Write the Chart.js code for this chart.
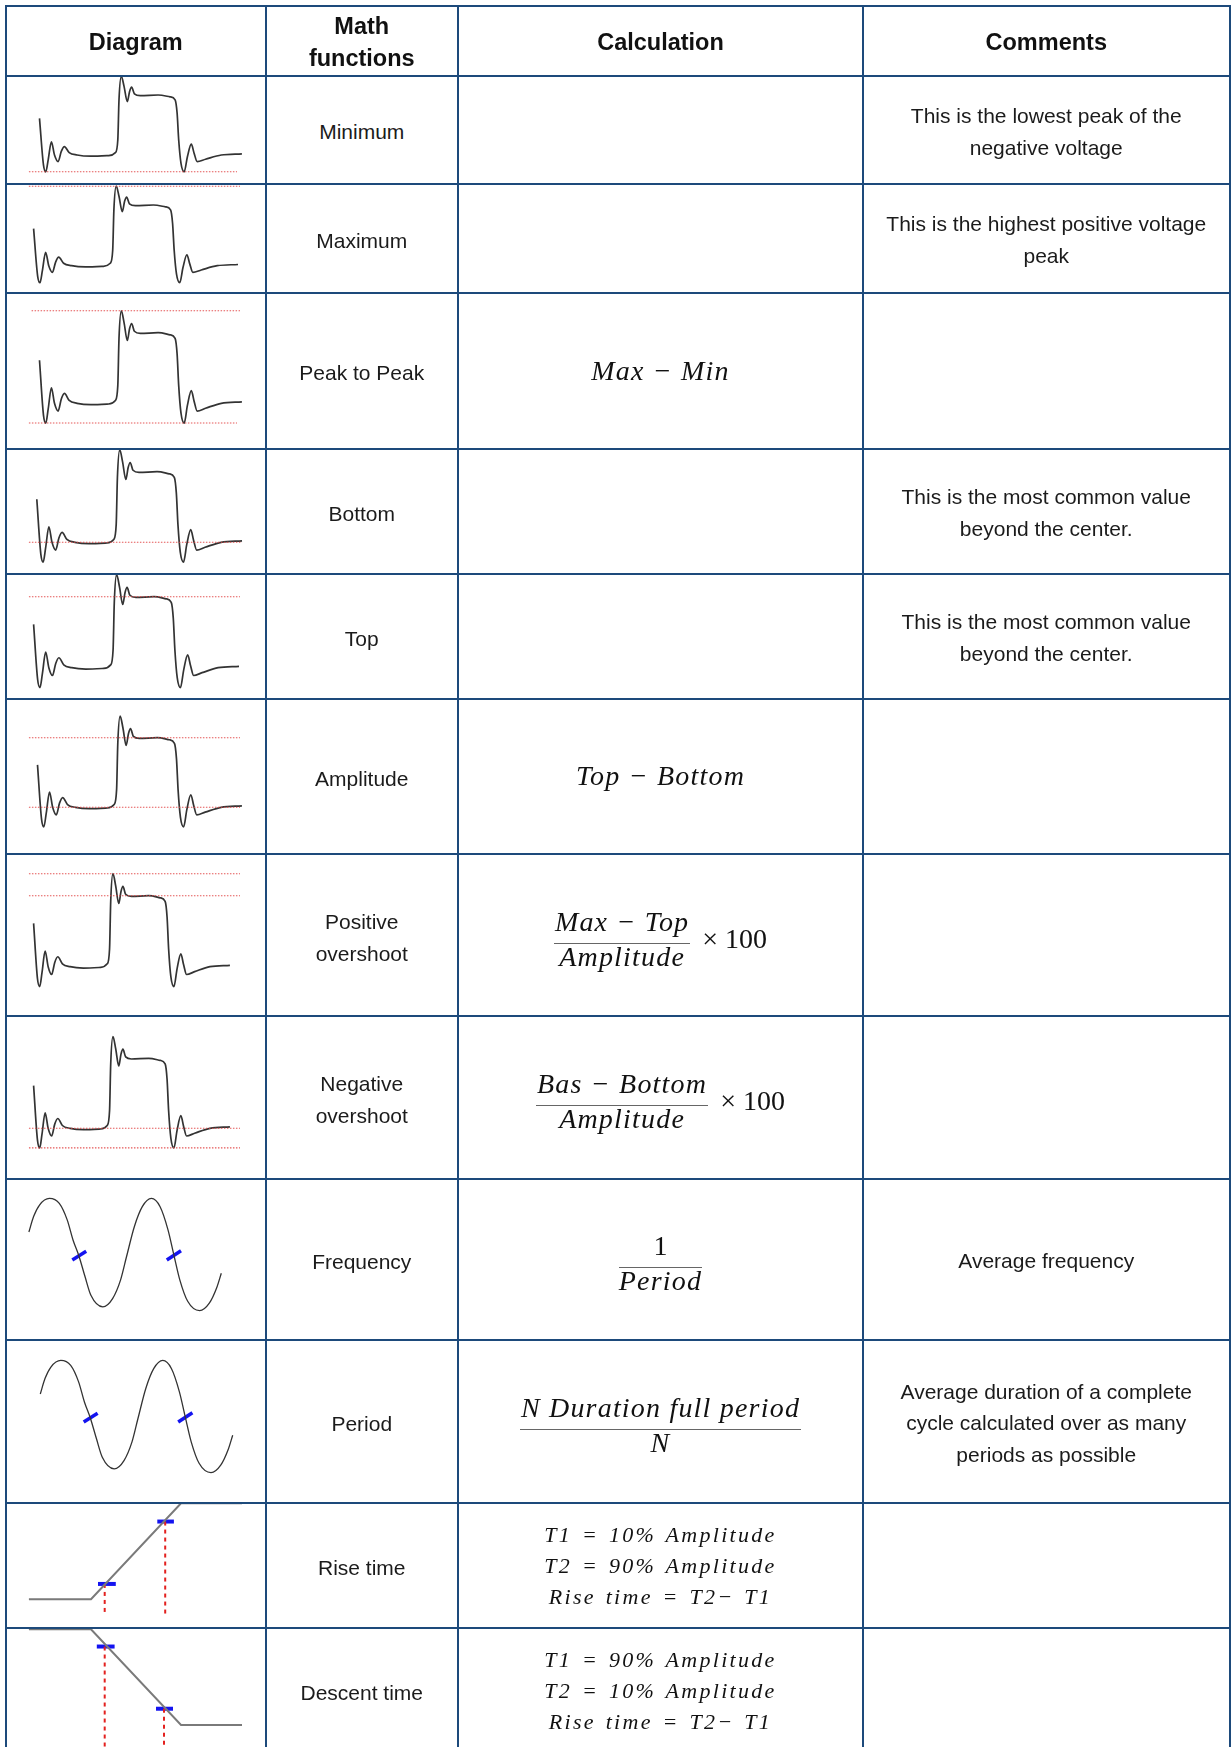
<!DOCTYPE html>
<html lang="en">
<head>
<meta charset="UTF-8">
<title>Math functions</title>
<script src="https://cdn.jsdelivr.net/npm/chart.js@4.4.1/dist/chart.umd.min.js"></script>
<style>
  body { margin: 0; background: #fff; }
  #page { position: relative; width: 1231px; height: 1747px; overflow: hidden; font-family: "Liberation Sans", Arial, sans-serif; color: #1b1b1b; }
  .cell { position: absolute; display: flex; align-items: center; justify-content: center; text-align: center; z-index: 1; }
  .hd { font-size: 23.5px; font-weight: bold; line-height: 31.7px; color: #111; }
  .lbl { font-size: 21px; line-height: 31.6px; }
  .m { font-family: "Liberation Serif", serif; font-style: italic; font-size: 28px; letter-spacing: 1.2px; color: #111; white-space: nowrap; }
  .r { font-style: normal; letter-spacing: 0; }
  .frac { display: inline-flex; flex-direction: column; align-items: center; vertical-align: middle; }
  .num { line-height: 28px; padding: 0 1px 7px; }
  .bar { align-self: stretch; border-top: 1.5px solid #666; }
  .den { line-height: 28px; margin-top: -1px; }
  .t { font-family: "Liberation Serif", serif; font-style: italic; font-size: 22px; letter-spacing: 2.3px; word-spacing: 2px; line-height: 31px; color: #111; white-space: nowrap; }
  .rule { position: absolute; background: #1d4a7b; z-index: 2; }
  canvas { position: absolute; }
</style>
</head>
<body>
<div id="page"></div>
<script>
  // pulse trace, x in time units, y in amplitude units (bottom = 0, top = 1)
  const pulseX = [0, 4, 6.3, 8.7, 11.9, 15, 18.6, 21.8, 24.9, 29.7, 37.6, 51.4, 69.2, 75.9, 78.3, 79.5, 81.8, 84.6, 87.8, 90.1, 92.1, 94.9, 100.8, 118.6, 130.5, 135.6, 137.6, 139.2, 141.5, 144.7, 147.9, 151.8, 154.6, 157.7, 166, 181.8, 202.4]
  const pulseY = [0.61, -0.17, -0.28, -0.08, 0.22, 0, -0.11, 0.06, 0.14, 0.04, 0, -0.02, -0.01, 0.04, 0.25, 0.92, 1.31, 1.14, 0.89, 1.06, 1.13, 1.02, 0.99, 1.0, 0.97, 0.92, 0.7, 0.25, -0.14, -0.28, -0.03, 0.18, 0.03, -0.11, -0.07, 0, 0.02]
  const levels = { min: -0.28, max: 1.31, bottom: 0, top: 1 }

  // sine trace for frequency / period
  const sineX = [0, 4.7, 10.6, 20.5, 30.4, 38.3, 44.2, 50.1, 56.1, 62, 73.9, 83.7, 91.7, 97.6, 105.5, 113.4, 122.5, 131.2, 139.1, 145, 150.9, 158.8, 170.7, 180.6, 187.7, 192.4]
  const sineY = [0.4, 0.68, 0.89, 1.01, 0.92, 0.62, 0.25, -0.04, -0.41, -0.75, -0.96, -0.81, -0.47, -0.05, 0.5, 0.86, 1.01, 0.86, 0.44, -0.02, -0.47, -0.86, -1.03, -0.89, -0.62, -0.35]
  const sineMarkX = [[43.4, 57.3], [137.9, 152.1]]
  const sineMarkY = [[-0.11, 0.05], [-0.11, 0.06]]

  // rise / descent ramps
  const rampX = [0, 62.1, 152.1, 213.1]
  const riseY = [0, 0, 1, 1]
  const fallY = [1, 1, 0, 0]
  const riseMarkX = [[69.1, 86.9], [128.4, 145]]
  const riseMarkY = [0.16, 0.81]
  const riseDropX = [75.8, 136.3]
  const fallMarkX = [[67.9, 85.7], [127.1, 144.1]]
  const fallMarkY = [0.82, 0.17]
  const fallDropX = [75.8, 135.1]
  const riseDropEnd = -0.17
  const fallDropEnd = -0.4

  const headers = ['Diagram', 'Math<br>functions', 'Calculation', 'Comments']
  const labels = ['Minimum', 'Maximum', 'Peak to Peak', 'Bottom', 'Top', 'Amplitude', 'Positive<br>overshoot', 'Negative<br>overshoot', 'Frequency', 'Period', 'Rise time', 'Descent time']
  const comments = [
    'This is the lowest peak of the<br>negative voltage',
    'This is the highest positive voltage<br>peak',
    '',
    'This is the most common value<br>beyond the center.',
    'This is the most common value<br>beyond the center.',
    '', '', '',
    'Average frequency',
    'Average duration of a complete<br>cycle calculated over as many<br>periods as possible',
    '', ''
  ]
  // which reference levels each pulse row shows, with their x extent
  const pulseRefs = [
    [['min', -10.6, 197.5]],
    [['max', -4.7, 204.4]],
    [['max', -7.9, 200.5], ['min', -10.6, 197.5]],
    [['bottom', -7.8, 202.4]],
    [['top', -4.6, 203.3]],
    [['top', -8.5, 200.5], ['bottom', -8.5, 200.5]],
    [['max', -4.8, 212.8], ['top', -4.8, 212.8]],
    [['bottom', -4.8, 212.8], ['min', -4.8, 212.8]]
  ]

  // layout
  const rowEdges = [6, 75.5, 183.5, 292.5, 448.5, 573.5, 698.5, 854, 1016, 1178.5, 1340, 1502.5, 1627.5, 1752.5]
  const colEdges = [6, 265.5, 458, 863, 1229.5]
  // x of data 0, px per x unit, y of data 0, px per y unit
  const diagramMaps = [
    [39.5, 1.0, 155, 60], [33.6, 1.01, 265.7, 60.7], [39.5, 1.0, 403.3, 70.6], [36.8, 1.014, 542.3, 70.6],
    [33.6, 1.015, 667.7, 71], [37.5, 1.01, 807.3, 69.6], [33.6, 0.97, 966.7, 71], [33.6, 0.97, 1128.3, 70],
    [28.9, 1.0, 1254, 55], [40.3, 1.0, 1416, 55], [28.9, 1.0, 1599.3, 96], [28.9, 1.0, 1725, 95.7]
  ]

  const frac = (n, d) => `<span class="frac"><span class="num">${n}</span><span class="bar"></span><span class="den">${d}</span></span>`
  const times = '<span class="r" style="margin-left:12px">× 100</span>'
  const formulas = [
    '', '',
    '<span class="m">Max − Min</span>',
    '', '',
    '<span class="m">Top − Bottom</span>',
    `<span class="m" style="display:flex;align-items:center;transform:translateY(4px)">${frac('Max − Top', 'Amplitude')}${times}</span>`,
    `<span class="m" style="display:flex;align-items:center;transform:translateY(4px)">${frac('Bas − Bottom', 'Amplitude')}${times}</span>`,
    `<span class="m" style="transform:translateY(4px)">${frac('<span class="r">1</span>', 'Period')}</span>`,
    `<span class="m" style="transform:translateY(4px)">${frac('N Duration full period', 'N')}</span>`,
    '<div><div class="t">T1 = 10% Amplitude</div><div class="t">T2 = 90% Amplitude</div><div class="t">Rise time = T2− T1</div></div>',
    '<div><div class="t">T1 = 90% Amplitude</div><div class="t">T2 = 10% Amplitude</div><div class="t">Rise time = T2− T1</div></div>'
  ]

  const page = document.getElementById('page')
  const pts = (xs, ys) => xs.map((x, i) => ({ x, y: ys[i] }))
  const seg = (x1, y1, x2, y2) => [{ x: x1, y: y1 }, { x: x2, y: y2 }]

  const trace = (data, color, width, smooth) => ({
    data, borderColor: color, borderWidth: width, pointRadius: 0,
    cubicInterpolationMode: smooth ? 'monotone' : 'default', tension: 0
  })
  const dotted = data => ({ data, borderColor: 'rgba(225,70,70,0.9)', borderWidth: 1.1, borderDash: [1.5, 1.5], pointRadius: 0, tension: 0 })
  const dashed = data => ({ data, borderColor: '#e3211f', borderWidth: 2, borderDash: [4, 4], pointRadius: 0, tension: 0 })
  const blue = (data, w) => ({ data, borderColor: '#1414f0', borderWidth: w, pointRadius: 0, tension: 0 })

  const cell = (x1, y1, x2, y2, html, cls) => {
    const d = document.createElement('div')
    d.className = 'cell ' + (cls || '')
    Object.assign(d.style, { left: x1 + 'px', top: y1 + 'px', width: (x2 - x1) + 'px', height: (y2 - y1) + 'px' })
    d.innerHTML = html
    page.appendChild(d)
  }

  const makeChart = (rowIdx, datasets) => {
    const [x0, sx, y0, sy] = diagramMaps[rowIdx]
    const top = rowEdges[rowIdx + 1], bottom = rowEdges[rowIdx + 2]
    const L = 7, W = 258
    const T = Math.round(top - 14), H = Math.round(bottom - top + 28)
    const c = document.createElement('canvas')
    c.width = W
    c.height = H
    Object.assign(c.style, { left: L + 'px', top: T + 'px', width: W + 'px', height: H + 'px' })
    page.appendChild(c)
    new Chart(c, {
      type: 'line',
      data: { datasets },
      options: {
        responsive: false,
        animation: false,
        devicePixelRatio: 1,
        layout: { padding: 0 },
        plugins: { legend: { display: false }, tooltip: { enabled: false } },
        scales: {
          x: { type: 'linear', display: false, min: (L - x0) / sx, max: (L + W - x0) / sx },
          y: { type: 'linear', display: false, min: (y0 - (T + H)) / sy, max: (y0 - T) / sy }
        }
      }
    })
  }

  // pulse diagrams
  pulseRefs.forEach((refs, i) => {
    const sets = refs.map(([k, a, b]) => dotted(seg(a, levels[k], b, levels[k])))
    sets.push(trace(pts(pulseX, pulseY), '#333', 1.7, true))
    makeChart(i, sets)
  })

  // frequency and period
  ;[8, 9].forEach(i => {
    const sets = [trace(pts(sineX, sineY), '#333', 1.3, true)]
    sineMarkX.forEach((mx, j) => sets.push(blue(seg(mx[0], sineMarkY[j][0], mx[1], sineMarkY[j][1]), 3.5)))
    makeChart(i, sets)
  })

  // rise time
  {
    const sets = [trace(pts(rampX, riseY), '#7a7a7a', 2, false)]
    riseDropX.forEach((x, j) => sets.push(dashed(seg(x, riseMarkY[j], x, riseDropEnd))))
    riseMarkX.forEach((mx, j) => sets.push(blue(seg(mx[0], riseMarkY[j], mx[1], riseMarkY[j]), 4)))
    makeChart(10, sets)
  }
  // descent time
  {
    const sets = [trace(pts(rampX, fallY), '#7a7a7a', 2, false)]
    fallDropX.forEach((x, j) => sets.push(dashed(seg(x, fallMarkY[j], x, fallDropEnd))))
    fallMarkX.forEach((mx, j) => sets.push(blue(seg(mx[0], fallMarkY[j], mx[1], fallMarkY[j]), 4)))
    makeChart(11, sets)
  }

  // header and text cells
  headers.forEach((h, c) => cell(colEdges[c], rowEdges[0] + 2, colEdges[c + 1], rowEdges[1] + 2, h, 'hd'))
  labels.forEach((lab, r) => {
    const y1 = rowEdges[r + 1], y2 = rowEdges[r + 2]
    cell(colEdges[1], y1 + 2.5, colEdges[2], y2 + 2.5, lab, 'lbl')
    cell(colEdges[2], y1, colEdges[3], y2, formulas[r])
    cell(colEdges[3], y1 + 2, colEdges[4], y2 + 2, comments[r], 'lbl')
  })

  // grid rules
  const rule = (x, y, w, h) => {
    const d = document.createElement('div')
    d.className = 'rule'
    Object.assign(d.style, { left: x + 'px', top: y + 'px', width: w + 'px', height: h + 'px' })
    page.appendChild(d)
  }
  const y0 = rowEdges[0], yN = rowEdges[rowEdges.length - 1]
  colEdges.forEach(x => rule(x - 1, y0 - 1, 2, yN - y0 + 2))
  rowEdges.forEach(y => rule(colEdges[0] - 1, y - 1, colEdges[4] - colEdges[0] + 2, 2))
</script>
</body>
</html>
